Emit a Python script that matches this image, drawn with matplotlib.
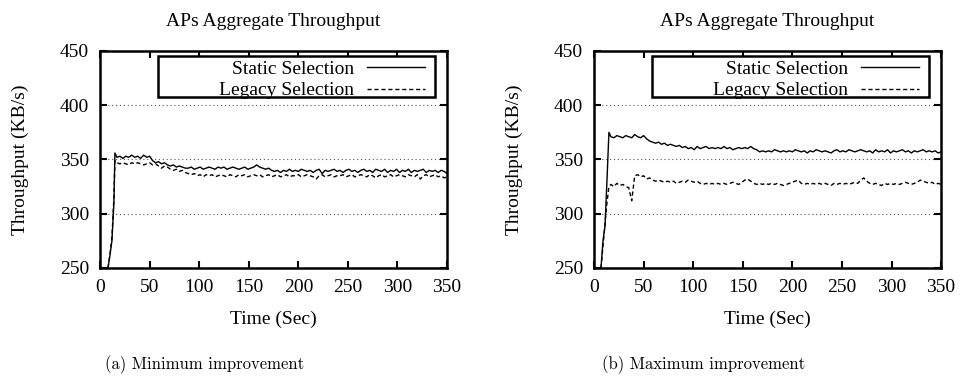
import numpy as np
import matplotlib
matplotlib.use("Agg")
import matplotlib.pyplot as plt
from matplotlib.patches import Rectangle

# common plateau sample times (sec)
plateau_t = list(range(17, 351, 3))

# (a) minimum improvement
a_static_ramp_t = [8, 10, 12, 14, 15]
a_static_ramp = [250, 262, 275, 310, 356]
a_static = [
    352, 353, 351, 353, 352, 354, 352, 353, 351, 354, 352, 353,
    349, 347, 348, 346, 347, 345, 344, 345, 343, 344, 343, 342,
    342, 343, 341, 342, 343, 341, 342, 343, 342, 341, 343, 342,
    343, 341, 342, 343, 342, 341, 342, 343, 341, 342, 343, 345,
    343, 342, 341, 342, 340, 339, 340, 338, 340, 339, 341, 339,
    340, 339, 341, 340, 339, 340, 338, 340, 341, 337, 340, 339,
    340, 341, 339, 340, 338, 340, 341, 339, 340, 338, 340, 341,
    339, 340, 338, 341, 340, 339, 341, 338, 340, 339, 341, 338,
    340, 339, 341, 338, 340, 339, 340, 341, 338, 340, 339, 340,
    338, 340, 339, 337,
]
a_legacy_ramp_t = [8, 10, 12, 14, 15]
a_legacy_ramp = [250, 262, 278, 315, 349]
a_legacy = [
    347, 346, 347, 346, 345, 347, 346, 347, 346, 345, 346, 347,
    345, 346, 344, 342, 344, 343, 341, 340, 341, 339, 340, 338,
    337, 336, 337, 335, 336, 334, 336, 335, 336, 334, 335, 336,
    335, 334, 336, 335, 334, 336, 335, 336, 334, 335, 336, 335,
    336, 334, 335, 336, 334, 335, 336, 334, 335, 336, 334, 335,
    335, 336, 334, 335, 336, 335, 334, 332, 335, 336, 334, 335,
    336, 334, 335, 335, 336, 334, 335, 336, 334, 335, 336, 335,
    334, 336, 335, 333, 335, 336, 334, 335, 336, 334, 335, 336,
    335, 334, 336, 335, 334, 336, 332, 335, 336, 334, 335, 336,
    334, 335, 333, 334,
]

# (b) maximum improvement
b_static_ramp_t = [7, 9, 11, 13, 15]
b_static_ramp = [250, 275, 288, 330, 375]
b_static = [
    371, 370, 372, 371, 370, 372, 371, 370, 373, 371, 370, 372,
    369, 367, 366, 365, 366, 364, 365, 363, 364, 363, 362, 363,
    361, 362, 360, 361, 359, 362, 360, 361, 362, 360, 361, 360,
    361, 360, 362, 360, 361, 359, 360, 361, 360, 361, 360, 362,
    360, 359, 357, 358, 357, 358, 357, 359, 358, 357, 358, 357,
    358, 357, 359, 358, 357, 358, 356, 358, 357, 359, 358, 357,
    358, 357, 356, 358, 359, 357, 358, 357, 359, 358, 357, 358,
    359, 358, 357, 358, 356, 359, 357, 358, 357, 359, 356, 358,
    357, 358, 359, 357, 358, 356, 358, 357, 358, 359, 357, 358,
    357, 358, 356, 357,
]
b_legacy_ramp_t = [7, 9, 11, 13, 15]
b_legacy_ramp = [250, 270, 290, 310, 325]
b_legacy = [
    327, 325, 328, 326, 327, 325, 324, 312, 335, 336, 334, 335,
    332, 333, 331, 330, 331, 330, 329, 330, 329, 330, 328, 329,
    330, 329, 331, 330, 329, 330, 328, 327, 328, 327, 328, 327,
    328, 327, 328, 327, 328, 329, 328, 327, 329, 331, 332, 330,
    328, 327, 328, 327, 328, 327, 328, 327, 328, 327, 326, 327,
    328, 329, 330, 331, 328, 327, 328, 327, 328, 327, 328, 327,
    328, 327, 326, 328, 327, 328, 327, 328, 327, 328, 329, 328,
    331, 333, 330, 328, 327, 328, 327, 326, 328, 327, 328, 327,
    328, 327, 328, 329, 328, 327, 328, 329, 331, 330, 329, 328,
    329, 327, 328, 327,
]

x_ticks = [0, 50, 100, 150, 200, 250, 300, 350]
y_ticks = [250, 300, 350, 400, 450]

SERIF = ["Liberation Serif", "DejaVu Serif"]


def draw_panel(ax, static_t, static_v, legacy_t, legacy_v):
    ax.plot(static_t, static_v, color="black", lw=1.0, label="Static Selection")
    ax.plot(legacy_t, legacy_v, color="black", lw=1.0, dashes=(3, 2),
            label="Legacy Selection")
    ax.set_xlim(0, 350)
    ax.set_ylim(250, 450)
    ax.set_xticks(x_ticks)
    ax.set_yticks(y_ticks)
    ax.yaxis.grid(True, color="#555555", lw=0.8, dashes=(1, 2.5))
    ax.tick_params(direction="in", top=True, right=True, length=5, width=1.5,
                   labelsize=14, pad=8)
    for lab in ax.get_xticklabels() + ax.get_yticklabels():
        lab.set_family(SERIF)
    for sp in ax.spines.values():
        sp.set_linewidth(1.8)
    ax.set_xlabel("Time (Sec)", fontsize=14, family=SERIF)
    ax.set_ylabel("Throughput (KB/s)", fontsize=14, family=SERIF)
    ax.xaxis.set_label_coords(0.5, -0.198)
    ax.yaxis.set_label_coords(-0.206, 0.5)

    # gnuplot-style key box: wide frame, text right-aligned next to samples
    box = Rectangle((0.167, 0.79), 0.798, 0.187, transform=ax.transAxes,
                    facecolor="white", edgecolor="black", lw=1.8, zorder=4)
    ax.add_patch(box)
    leg = ax.legend(loc="upper right", bbox_to_anchor=(0.942, 0.966),
                    markerfirst=False, frameon=False, handlelength=3.0,
                    handletextpad=0.67, labelspacing=0.2, borderpad=0.1,
                    borderaxespad=0, prop={"family": SERIF, "size": 14})
    leg.set_zorder(5)


fig = plt.figure(figsize=(9.6, 3.83), dpi=100)
ax_a = fig.add_axes([0.1042, 0.3003, 0.3615, 0.5666])
ax_b = fig.add_axes([0.6188, 0.3003, 0.3615, 0.5666])

draw_panel(ax_a, a_static_ramp_t + plateau_t, a_static_ramp + a_static,
           a_legacy_ramp_t + plateau_t, a_legacy_ramp + a_legacy)
draw_panel(ax_b, b_static_ramp_t + plateau_t, b_static_ramp + b_static,
           b_legacy_ramp_t + plateau_t, b_legacy_ramp + b_legacy)

for ax in (ax_a, ax_b):
    pos = ax.get_position()
    fig.text((pos.x0 + pos.x1) / 2, 1 - 22 / 383, "APs Aggregate Throughput",
             ha="center", va="center", fontsize=14, family=SERIF)

fig.text(0.2135, 1 - 365 / 383, "(a) Minimum improvement", ha="center",
         va="center", fontsize=12, family="cmr10")
fig.text(0.733, 1 - 365 / 383, "(b) Maximum improvement", ha="center",
         va="center", fontsize=12, family="cmr10")

fig.savefig("out.png", dpi=100)
